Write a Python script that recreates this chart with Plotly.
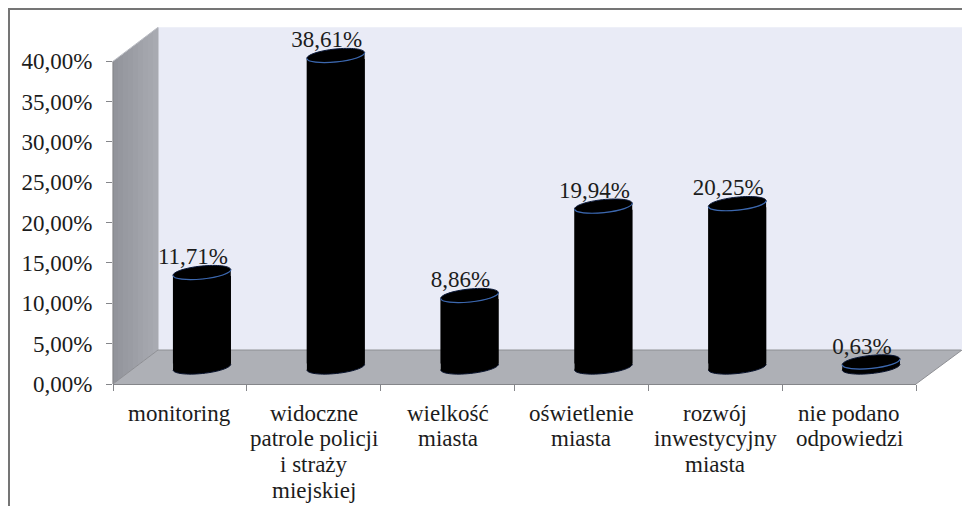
import math
import plotly.graph_objects as go

# ---- data ----
categories = [
    ["monitoring"],
    ["widoczne", "patrole policji", "i straży", "miejskiej"],
    ["wielkość", "miasta"],
    ["oświetlenie", "miasta"],
    ["rozwój", "inwestycyjny", "miasta"],
    ["nie podano", "odpowiedzi"],
]
values = [11.71, 38.61, 8.86, 19.94, 20.25, 0.63]
value_labels = ["11,71%", "38,61%", "8,86%", "19,94%", "20,25%", "0,63%"]
y_ticks = [0, 5, 10, 15, 20, 25, 30, 35, 40]
y_tick_labels = ["0,00%", "5,00%", "10,00%", "15,00%", "20,00%", "25,00%", "30,00%", "35,00%", "40,00%"]

# ---- layout geometry (pixels) ----
W, H = 962, 506
Y_MAX = 44                         # axis runs on above 40 so the tallest cap and its label are not clipped
L, R, T40, B = 113, 916, 61, 384
PX_X = (R - L) / len(values)       # pixels per category
PX_Y = (B - T40) / 40.0            # pixels per percent
T = B - Y_MAX * PX_Y
DX, DY = 45, 34                    # depth of the 3D box
BAR_W = 58
BAR_SHIFT = 22 / PX_X              # bars sit mid-depth in the box
BAR_LIFT = 17 / PX_Y
INSET = 3.5 / PX_Y                 # straight body stops short of the tilted rims
LABEL_SHIFT = 13 / PX_X
LABEL_LIFT = 14 / PX_Y
A, E, TILT = 29, 6.5, math.atan2(3, 29)
FONT = "Liberation Serif"
TXT = "#1c1c1c"
AXIS = "#85868a"


def px(x):
    return (x - L) / (R - L)


def py(y):
    return (B - y) / (B - T)


def poly(points, fill, layer="below"):
    d = "M " + " L ".join(f"{px(x):.5f},{py(y):.5f}" for x, y in points) + " Z"
    return dict(type="path", path=d, xref="paper", yref="paper", fillcolor=fill, layer=layer,
                line=dict(width=0))


def seg(x0, y0, x1, y1, color, width=1, layer="below"):
    return dict(type="line", xref="paper", yref="paper", x0=px(x0), x1=px(x1), y0=py(y0), y1=py(y1),
                line=dict(color=color, width=width), layer=layer)


def ell_pt(cx, cy, t):
    ux, uy = math.cos(TILT), math.sin(TILT)
    vx, vy = -uy, ux
    ox = A * math.cos(t) * ux + E * math.sin(t) * vx
    oy = A * math.cos(t) * uy + E * math.sin(t) * vy
    return cx + ox / PX_X, cy + oy / PX_Y


def arc(cx, cy, t0, n):
    k = 0.5523
    p = ell_pt(cx, cy, t0)
    d = f"M {p[0]:.5f},{p[1]:.5f}"
    ux, uy = math.cos(TILT), math.sin(TILT)
    vx, vy = -uy, ux

    def tang(t):
        ox = -A * math.sin(t) * ux + E * math.cos(t) * vx
        oy = -A * math.sin(t) * uy + E * math.cos(t) * vy
        return ox / PX_X, oy / PX_Y

    for i in range(n):
        a0 = t0 + i * math.pi / 2
        a1 = a0 + math.pi / 2
        p0, p1 = ell_pt(cx, cy, a0), ell_pt(cx, cy, a1)
        t_0, t_1 = tang(a0), tang(a1)
        c1 = (p0[0] + k * t_0[0], p0[1] + k * t_0[1])
        c2 = (p1[0] - k * t_1[0], p1[1] - k * t_1[1])
        d += f" C {c1[0]:.5f},{c1[1]:.5f} {c2[0]:.5f},{c2[1]:.5f} {p1[0]:.5f},{p1[1]:.5f}"
    return d


shapes = []
# back wall
shapes.append(poly([(L + DX, B - DY), (L + DX, T40 - DY), (R + DX + 1, T40 - DY), (R + DX + 1, B - DY)], "#e9ebf6"))
# side wall, shaded in strips
n_strips = 9
for i in range(n_strips):
    f0, f1 = i / n_strips, (i + 1) / n_strips
    c = 0x92 + round((0xab - 0x92) * f0)
    shapes.append(poly([(L + DX * f0, T40 - DY * f0), (L + DX * f1 + 0.5, T40 - DY * f1),
                        (L + DX * f1 + 0.5, B - DY * f1), (L + DX * f0, B - DY * f0)],
                       f"rgb({c},{c + 2},{c + 9})"))
# floor
shapes.append(poly([(L, B), (L + DX, B - DY), (R + DX + 1, B - DY), (R, B)], "#aeb0b6"))
shapes.append(seg(L + DX, B - DY, R + DX, B - DY, "#8e8f94"))
shapes.append(seg(R, B, R + DX + 1, B - DY, "#8e8f94"))
shapes.append(seg(L, B, L + DX, B - DY, "#8e8f94"))
# value axis line, stopping at 40
shapes.append(seg(L, T40, L, B, AXIS, 1.2))
shapes.append(seg(L, T40, L + DX, T40 - DY, "#b9bbc2"))

xs = [i + 0.5 + BAR_SHIFT for i in range(len(values))]

# cylinder sides and caps, derived from the values
for x, v in zip(xs, values):
    base = BAR_LIFT
    top = v + BAR_LIFT
    l0, r0 = ell_pt(x, base, math.pi), ell_pt(x, base, 0)
    l1, r1 = ell_pt(x, top, math.pi), ell_pt(x, top, 0)
    shapes.append(dict(type="path", layer="above", fillcolor="#000000", line=dict(width=0),
                       path=f"M {l0[0]:.5f},{l0[1]:.5f} L {r0[0]:.5f},{r0[1]:.5f} "
                            f"L {r1[0]:.5f},{r1[1]:.5f} L {l1[0]:.5f},{l1[1]:.5f} Z"))
    shapes.append(dict(type="path", path=arc(x, base, 0, 4) + " Z", fillcolor="#000000", layer="above",
                       line=dict(width=0)))
    shapes.append(dict(type="path", path=arc(x, base, math.pi, 2), layer="above",
                       line=dict(color="#07112b", width=1)))
    shapes.append(dict(type="path", path=arc(x, top, 0, 4) + " Z", fillcolor="#000000", layer="above",
                       line=dict(color="#0a1838", width=1)))
    shapes.append(dict(type="path", path=arc(x, top, math.pi, 2), layer="above",
                       line=dict(color="#3d68ad", width=1.2)))

annotations = []
for i, lines in enumerate(categories):
    for j, line in enumerate(lines):
        annotations.append(dict(x=i + 0.5, y=0, xref="x", yref="y", text=line, showarrow=False,
                                yanchor="middle", xanchor="center", yshift=-(29 + j * 25.7),
                                font=dict(family=FONT, size=23, color=TXT)))

fig = go.Figure()
fig.add_trace(go.Bar(x=xs, y=[max(v - 2 * INSET, 0) for v in values],
                     base=[BAR_LIFT + INSET] * len(values), width=BAR_W / PX_X,
                     marker=dict(color="#000000", line=dict(width=0)),
                     cliponaxis=False, hoverinfo="skip"))
fig.add_trace(go.Scatter(x=[i + 0.5 + LABEL_SHIFT for i in range(len(values))],
                         y=[v + BAR_LIFT + LABEL_LIFT for v in values],
                         mode="text", text=value_labels, textposition="middle center",
                         textfont=dict(family=FONT, size=23, color=TXT),
                         cliponaxis=False, hoverinfo="skip"))

fig.update_layout(
    width=W, height=H, autosize=False,
    margin=dict(l=L, r=W - R, t=T, b=H - B, pad=0),
    paper_bgcolor="#ffffff", plot_bgcolor="rgba(0,0,0,0)",
    showlegend=False, shapes=shapes, annotations=annotations,
    xaxis=dict(range=[0, len(values)], showgrid=False, zeroline=False, showline=True,
               linecolor=AXIS, linewidth=1.2, tickvals=[], showticklabels=False,
               minor=dict(tickmode="array", tickvals=list(range(len(values) + 1)),
                          ticks="outside", ticklen=6, tickcolor=AXIS, tickwidth=1, showgrid=False)),
    yaxis=dict(range=[0, Y_MAX], showgrid=False, zeroline=False, showline=False,
               tickmode="array", tickvals=y_ticks, ticktext=y_tick_labels,
               ticks="outside", ticklen=6, tickcolor=AXIS, tickwidth=1, ticklabelstandoff=9,
               tickfont=dict(family=FONT, size=23, color=TXT)),
)

# thin page frame along the top and left, outside the chart
frame_js = """
document.body.style.margin='0';
document.body.style.overflow='hidden';
var frameParts = [[8,8,954,2],[8,8,2,498]];
frameParts.forEach(function(r){
  var d = document.createElement('div');
  d.style.cssText = 'position:absolute;z-index:10;pointer-events:none;background:#757575;left:'+r[0]+'px;top:'+r[1]+'px;width:'+r[2]+'px;height:'+r[3]+'px';
  document.body.appendChild(d);
});
"""
fig.write_html("out.html", config=dict(displayModeBar=False), post_script=frame_js)
